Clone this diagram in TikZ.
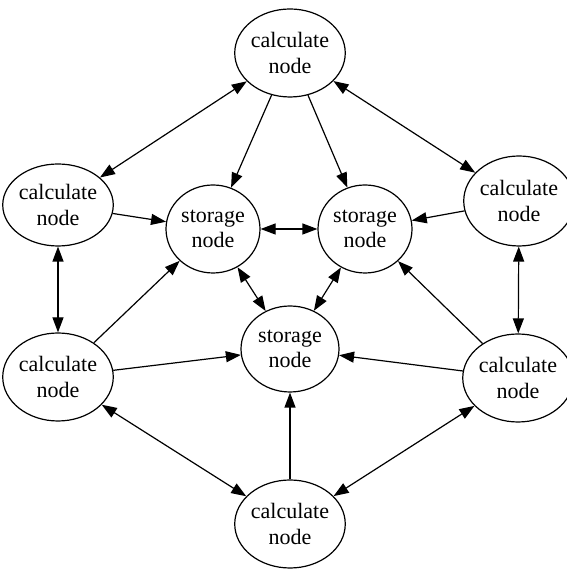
\documentclass[tikz,border=0pt]{standalone}
\usepackage{fontspec}
\setmainfont{Liberation Serif}
\usetikzlibrary{shapes.geometric, arrows.meta}
\tikzstyle{calcnode} = [
  ellipse, draw=black, line width=1.2pt, inner sep=0pt,
  minimum width=98pt, minimum height=88pt, align=center,
  font=\fontsize{22}{25.5}\selectfont
]
\tikzstyle{storenode} = [calcnode, minimum width=94pt, minimum height=88pt]
\tikzstyle{arrow} = [-{Triangle[length=15pt, width=11pt]}, line width=1.2pt]
\tikzstyle{biarrow} = [{Triangle[length=15pt, width=11pt]}-{Triangle[length=15pt, width=11pt]}, line width=1.2pt]

\begin{document}
\begin{tikzpicture}[x=1pt, y=1pt]
  \useasboundingbox (0,0) rectangle (566,569);

  % calculate nodes round the outside
  \node[calcnode] (top) at (290, 516) {calculate\\node};
  \node[calcnode, minimum width=100pt, minimum height=82pt] (upleft) at (58, 364) {calculate\\node};
  \node[calcnode, minimum width=94pt, minimum height=90pt] (upright) at (519, 368) {calculate\\node};
  \node[calcnode, minimum width=100pt] (lowleft) at (58, 192) {calculate\\node};
  \node[calcnode, minimum width=94pt] (lowright) at (518, 191) {calculate\\node};
  \node[calcnode, minimum width=100pt] (bottom) at (290, 45) {calculate\\node};

  % storage nodes in the middle
  \node[storenode] (storeleft) at (213, 340) {storage\\node};
  \node[storenode] (storeright) at (365, 340) {storage\\node};
  \node[storenode, minimum width=98pt, minimum height=86pt] (storecenter) at (290, 220) {storage\\node};

  \draw[biarrow] (top) -- (upleft);
  \draw[biarrow] (top) -- (upright);
  \draw[arrow] (top) -- (storeleft);
  \draw[arrow] (top) -- (storeright);
  \draw[arrow] (upleft) -- (storeleft);
  \draw[arrow] (upright) -- (storeright);
  \draw[biarrow] (upleft) -- (lowleft);
  \draw[biarrow] (upright) -- (lowright);
  \draw[biarrow] (storeleft) -- (storeright);
  \draw[biarrow] (storeleft) -- (storecenter);
  \draw[biarrow] (storeright) -- (storecenter);
  \draw[arrow] (lowleft) -- (storeleft);
  \draw[arrow] (lowleft) -- (storecenter);
  \draw[arrow] (lowright) -- (storeright);
  \draw[arrow] (lowright) -- (storecenter);
  \draw[biarrow] (lowleft) -- (bottom);
  \draw[biarrow] (lowright) -- (bottom);
  \draw[arrow] (bottom) -- (storecenter);

\end{tikzpicture}
\end{document}
